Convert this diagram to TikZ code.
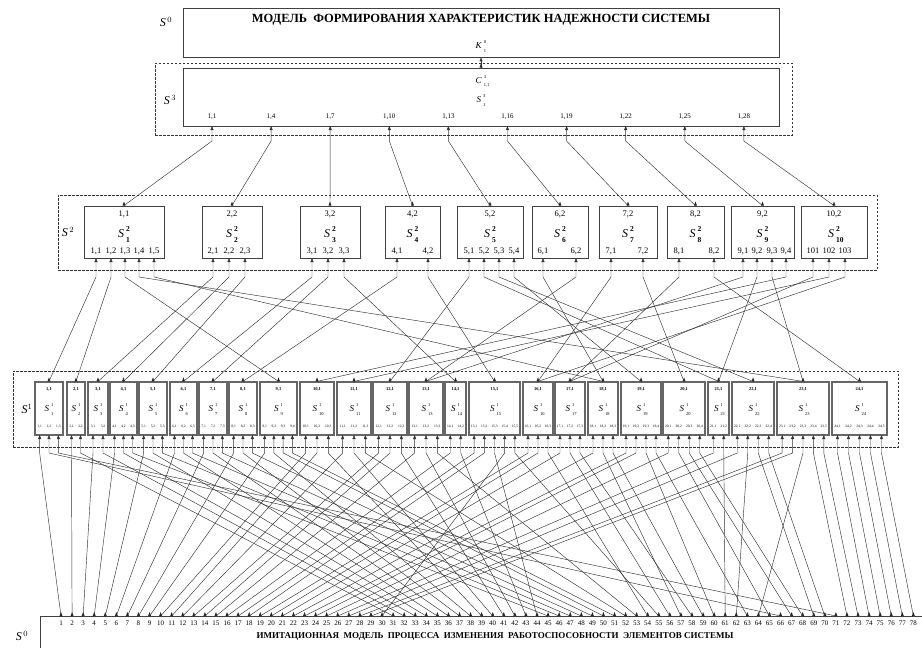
\documentclass[tikz,border=0pt]{standalone}
\usepackage{fontspec}
\setmainfont{Liberation Serif}
\usetikzlibrary{arrows.meta}

\tikzset{
  blk/.style={draw=black!75, line width=0.9pt, inner sep=0pt},
  blkone/.style={draw=black!60, line width=1.2pt, inner sep=0pt},
  grp/.style={draw=black!80, line width=0.5pt, dash pattern=on 2.5pt off 1.5pt},
  link/.style={draw=black!80, line width=0.45pt, -{Triangle[length=4pt,width=3pt]}},
  foot/.pic={\fill[black!85] (-1.5,0) -- (0,-4) -- (1.5,0) -- cycle;},
  % letter with upper and lower index: letter, upper, lower, size, index size
  pics/sym/.style n args={5}{code={
    \node[inner sep=0pt, font=\fontsize{#4}{#4}\selectfont] (-l) at ({-0.25*#4},0) {\textit{#1}};
    \node[inner sep=0pt, anchor=west, font=\fontsize{#5}{#5}\selectfont] (-u)
      at ([xshift=1.6pt,yshift=1.2pt]-l.north east) {#2};
    \node[inner sep=0pt, anchor=west, font=\fontsize{#5}{#5}\selectfont] (-d)
      at ([xshift=1.6pt,yshift=-1.6pt]-l.south east) {#3};
  }},
  lvl/.style={font=\fontsize{12}{12}\selectfont, inner sep=0pt},
  title/.style={font=\fontsize{12.5}{13}\selectfont\bfseries, inner sep=0pt},
  bott/.style={font=\fontsize{9}{10}\selectfont\bfseries, inner sep=0pt},
  num/.style={font=\fontsize{7}{7}\selectfont, inner sep=0pt},
  labthree/.style={font=\fontsize{7}{7}\selectfont, inner sep=0pt},
  labtwo/.style={font=\fontsize{8.5}{9}\selectfont, inner sep=0pt},
  labonetop/.style={font=\fontsize{4.5}{5}\selectfont\bfseries, inner sep=0pt},
  labone/.style={font=\fontsize{3.6}{4}\selectfont, inner sep=0pt},
}

\begin{document}
\begin{tikzpicture}[x=1pt,y=-1pt]
\useasboundingbox (0,0) rectangle (922,648);

% level S0, top model
\node[blk, minimum width=596pt, minimum height=49pt] (m0) at (481,32.5) {};
\node[title] (m0t) at (481,20) {МОДЕЛЬ\ \ ФОРМИРОВАНИЯ ХАРАКТЕРИСТИК НАДЕЖНОСТИ СИСТЕМЫ};
\pic (k0) at (481,46) {sym={K}{0}{1}{9}{4.5}};
\node[lvl] (l0) at (166,22) {$\textit{S}^{\,0}$};

% level S3
\node[grp, minimum width=637pt, minimum height=72pt] (g3) at (473.5,99) {};
\node[blk, minimum width=596pt, minimum height=58pt] (m3) at (481,97) {};
\pic (c3) at (481,81) {sym={C}{3}{1,1}{9}{4.5}};
\pic (s3) at (481,100) {sym={S}{3}{1}{9}{4.5}};
\node[lvl] (l3) at (170,100) {$\textit{S}^{\,3}$};
\foreach \v [count=\nb] in {1,4,...,28} {
  \pgfmathsetmacro\xa{212+59.1*(\nb-1)}
  \coordinate (t\nb) at (\xa,126);
  \node[labthree] at (\xa,117) {1,\v};
}

% level S2
\node[grp, minimum width=819pt, minimum height=75pt] (g2) at (467.5,232.5) {};
\node[lvl] (l2) at (68,232) {$\textit{S}^{\,2}$};
\foreach \nb/\lft/\rgt/\hd/\cm/\ins in {
  1/84/164/{1,1}/{,}/{96,111,125,139,154},
  2/202/262/{2,2}/{,}/{213,229,245},
  3/300/360/{3,2}/{,}/{312,328,344},
  4/385/440/{4,2}/{,}/{397,428},
  5/457/523/{5,2}/{,}/{469,484,499,514},
  6/532/588/{6,2}/{,}/{543,576},
  7/599/657/{7,2}/{,}/{611,643},
  8/667/724/{8,2}/{,}/{679,714},
  9/731/794/{9,2}/{,}/{743,757,772,786},
  10/801/867/{10,2}/{}/{813,829,845}} {
  \pgfmathsetmacro\w{\rgt-\lft}
  \pgfmathsetmacro\cx{(\lft+\rgt)/2}
  \node[blk, minimum width=\w pt, minimum height=52pt] (u\nb) at (\cx,232) {};
  \node[labtwo] at (\cx,214) {\hd};
  \pic (su\nb) at (\cx,234) {sym={S}{\textbf{2}}{\textbf{\nb}}{12}{7.5}};
  \foreach \xa [count=\i] in \ins {
    \coordinate (p\nb-\i) at (\xa,258);
    \node[labtwo] at (\xa,251) {\nb\cm\i};
  }
}

% level S1
\node[grp, minimum width=885pt, minimum height=76pt] (g1) at (455.5,409) {};
\node[lvl] (l1) at (27,409) {$\textit{S}^{1}$};
\foreach \nb/\lft/\rgt/\m in {1/35/63/3, 2/67/85/2, 3/88/108/2, 4/110/137/3,
  5/139/167/3, 6/170/197/3, 7/199/227/3, 8/229/257/3, 9/260/297/4, 10/300/334/3,
  11/337/371/3, 12/373/407/3, 13/409/443/3, 14/445/466/2, 15/469/520/5,
  16/523/553/3, 17/555/585/3, 18/588/618/3, 19/621/661/4, 20/663/705/4,
  21/708/729/2, 22/732/774/4, 23/777/829/5, 24/832/887/5} {
  \pgfmathsetmacro\w{\rgt-\lft}
  \pgfmathsetmacro\cx{(\lft+\rgt)/2}
  \node[blkone, minimum width=\w pt, minimum height=53pt] (a\nb) at (\cx,408.5) {};
  \node[labonetop] at (\cx,389) {\nb,1};
  \pic (sa\nb) at (\cx,409) {sym={S}{1}{\nb}{9}{4.5}};
  \foreach \i in {1,...,\m} {
    \pgfmathsetmacro\xa{\lft+(\rgt-\lft)*(\i-0.5)/\m}
    \coordinate (q\nb-\i) at (\xa,435);
    \node[labone] at (\xa,427) {\nb,\i};
  }
}

% level S0, simulation model
\draw[blk] (922,616) -- (40,616) -- (40,648);
\node[bott] (mb) at (495,636) {ИМИТАЦИОННАЯ\ \ МОДЕЛЬ\ \ ПРОЦЕССА\ \ ИЗМЕНЕНИЯ\ \ РАБОТОСПОСОБНОСТИ\ \ ЭЛЕМЕНТОВ СИСТЕМЫ};
\node[lvl] (lb) at (22,636) {$\textit{S}^{\,0}$};
\foreach \kk in {1,...,78} {
  \pgfmathsetmacro\xb{61+11.07*(\kk-1)}
  \coordinate (b\kk) at (\xb,616);
  \node[num] at (\xb,623) {\kk};
  \pic at (b\kk) {foot};
}

% S3 -> S0
\draw[link] (m3.north) -- (m0.south);
\pic at (m3.north) {foot};

% S2 -> S3
\foreach \nb in {1,...,10} {
  \draw[link] (u\nb.north) -- ([yshift=-15pt]t\nb) -- (t\nb);
  \pic at (u\nb.north) {foot};
}

% S1 -> S2
\foreach \nb in {1,...,24}
  \pic at (a\nb.north) {foot};
\foreach \s/\p in {1/1-1, 2/1-2, 9/1-3, 23/1-4, 18/1-5, 3/2-1, 4/2-2, 5/2-3,
  6/3-1, 7/3-2, 14/3-3, 8/4-1, 15/4-2, 12/5-1, 21/5-2, 22/5-3, 19/5-4,
  18/6-1, 13/6-2, 16/7-1, 20/7-2, 17/8-1, 24/8-2, 13/9-1, 21/9-2, 23/9-3,
  10/9-4, 17/10-1, 11/10-2, 16/10-3}
  \draw[link] (a\s.north) -- ([yshift=-19pt]p\p) -- (p\p);

% elements -> S1
\foreach \kk/\q in {1/1-1, 2/2-1, 3/3-1, 4/4-1, 5/5-1, 6/6-1, 7/7-1, 8/8-1,
  9/9-1, 10/10-1, 11/10-2, 12/11-1, 13/12-1, 14/12-2, 15/13-1, 16/14-1,
  17/15-1, 18/15-2, 19/16-1, 20/16-2, 21/17-1, 22/18-1, 23/19-1, 24/19-2,
  25/20-1, 26/21-1, 27/22-1, 28/23-1, 29/23-2, 30/15-4, 31/2-2, 32/3-2,
  33/4-2, 34/5-2, 35/6-2, 36/7-2, 37/8-2, 38/9-2, 39/10-3, 40/11-2,
  41/12-3, 42/13-2, 43/14-2, 44/15-3, 45/4-3, 46/5-3, 47/6-3, 48/7-3,
  49/8-3, 50/9-3, 51/9-4, 52/11-3, 53/13-3, 54/16-3, 55/15-5, 56/17-2,
  57/18-2, 58/17-3, 59/18-3, 60/19-3, 61/21-2, 62/22-2, 63/19-4, 64/23-3,
  65/20-2, 66/1-2, 67/20-3, 68/20-4, 69/22-3, 70/22-4, 71/1-3, 72/23-4,
  73/23-5, 74/24-1, 75/24-2, 76/24-3, 77/24-4, 78/24-5}
  \draw[link] (b\kk) -- ([yshift=-18pt]q\q) -- (q\q);
\end{tikzpicture}
\end{document}
